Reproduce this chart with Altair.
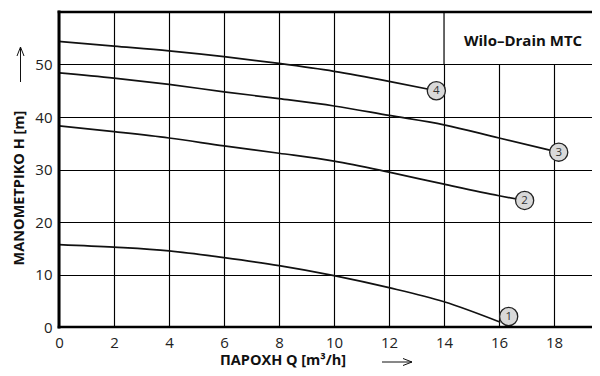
import altair as alt
import pandas as pd

# ---- data ----
x_ticks = [0, 2, 4, 6, 8, 10, 12, 14, 16, 18]
y_ticks = [0, 10, 20, 30, 40, 50]

q1 = [0, 2, 4, 6, 8, 10, 12, 14, 16.05]
h1 = [15.7, 15.2, 14.5, 13.2, 11.7, 9.8, 7.5, 4.8, 0.9]
q2 = [0, 2, 4, 6, 8, 10, 12, 14, 16, 16.93]
h2 = [38.3, 37.2, 36.0, 34.5, 33.1, 31.6, 29.5, 27.2, 25.0, 24.1]
q3 = [0, 2, 4, 6, 8, 10, 12, 14, 16, 18.17]
h3 = [48.4, 47.4, 46.2, 44.8, 43.5, 42.1, 40.3, 38.5, 36.0, 33.3]
q4 = [0, 2, 4, 6, 8, 10, 12, 13.72]
h4 = [54.4, 53.5, 52.6, 51.5, 50.2, 48.7, 46.8, 45.0]

marker_labels = ["1", "2", "3", "4"]
marker_q = [16.35, 16.93, 18.17, 13.72]
marker_h = [2.0, 24.1, 33.3, 45.0]

title_text = "Wilo–Drain MTC"
x_title = "ΠΑΡΟΧΗ Q [m³/h]"
y_title = "ΜΑΝΟΜΕΤΡΙΚΟ Η [m]"

X_MAX = 19.38
Y_MAX = 60

# ---- tables ----
rows = []
for name, qs, hs in [("1", q1, h1), ("2", q2, h2), ("3", q3, h3), ("4", q4, h4)]:
    for q, h in zip(qs, hs):
        rows.append({"curve": name, "q": q, "h": h})
df_lines = pd.DataFrame(rows)
df_markers = pd.DataFrame({"label": marker_labels, "q": marker_q, "h": marker_h})
df_box = pd.DataFrame({"x": [14], "x2": [X_MAX + 1], "y": [50], "y2": [60]})
df_hborder = pd.DataFrame({"y": [Y_MAX, 0]})
df_vborder = pd.DataFrame({"x": [0]})

# decorative arrows (pixel space, relative to plot origin)
df_arrows = pd.DataFrame({
    "x1": [-38.5, -38.5, -38.5, 323, 353, 353],
    "y1": [35, 35, 35, 350, 350, 350],
    "x2": [-38.5, -42, -35, 353, 344, 344],
    "y2": [70, 44, 44, 350, 346.5, 353.5],
})

xs = alt.Scale(domain=[0, X_MAX], nice=False, zero=False)
ys = alt.Scale(domain=[0, Y_MAX], nice=False, zero=False)

common_axis = dict(grid=True, gridColor="#000", gridWidth=1.15, gridOpacity=1,
                   domain=False, ticks=False, tickSize=0,
                   labelFont="Open Sans", labelFontSize=15, labelColor="#222",
                   labelFlush=False, labelOverlap=False, title=None, format="d")
x_axis = alt.Axis(values=x_ticks, labelPadding=8, **common_axis)
y_axis = alt.Axis(values=y_ticks, labelPadding=7, **common_axis)


def X(f):
    return alt.X(f, scale=xs, axis=x_axis)


def Y(f):
    return alt.Y(f, scale=ys, axis=y_axis)


box = alt.Chart(df_box).mark_rect(fill="white", stroke="#000", strokeWidth=1.15, clip=True).encode(
    x=X("x:Q"), x2="x2:Q", y=Y("y:Q"), y2="y2:Q",
)

lines = alt.Chart(df_lines).mark_line(color="#111", strokeWidth=1.7, interpolate="monotone").encode(
    x=X("q:Q"), y=Y("h:Q"), detail="curve:N",
)

markers = alt.Chart(df_markers).mark_point(
    shape="circle", filled=True, fill="#d9d9d9", stroke="#222", strokeWidth=1.3,
    size=330, opacity=1, fillOpacity=1
).encode(x=X("q:Q"), y=Y("h:Q"))

marker_text = alt.Chart(df_markers).mark_text(
    font="Open Sans", fontSize=11.5, color="#333", baseline="middle", align="center", dy=0.5
).encode(x=X("q:Q"), y=Y("h:Q"), text="label:N")

hborder = alt.Chart(df_hborder).mark_rule(color="#000", strokeWidth=2.6, strokeCap="square").encode(
    y=Y("y:Q")
)
vborder = alt.Chart(df_vborder).mark_rule(color="#000", strokeWidth=3, strokeCap="square").encode(
    x=X("x:Q")
)

title = alt.Chart(pd.DataFrame({"t": [title_text]})).mark_text(
    font="Open Sans", fontWeight="bold", fontSize=15, color="#111", align="left", baseline="middle"
).encode(x=alt.value(405), y=alt.value(29), text="t:N")

xt = alt.Chart(pd.DataFrame({"t": [x_title]})).mark_text(
    font="Open Sans", fontWeight="bold", fontSize=14.5, color="#111", align="left", baseline="middle"
).encode(x=alt.value(161), y=alt.value(349), text="t:N")

yt = alt.Chart(pd.DataFrame({"t": [y_title]})).mark_text(
    font="Open Sans", fontWeight="bold", fontSize=14.5, color="#111", align="center", baseline="middle",
    angle=270
).encode(x=alt.value(-39), y=alt.value(176), text="t:N")

arrows = alt.Chart(df_arrows).mark_rule(color="#111", strokeWidth=1).encode(
    x=alt.X("x1:Q", scale=None, axis=None),
    y=alt.Y("y1:Q", scale=None, axis=None),
    x2="x2:Q",
    y2="y2:Q",
)

chart = alt.layer(box, lines, markers, marker_text, hborder, vborder, title, xt, yt, arrows).properties(
    width=533, height=315,
    autosize=alt.AutoSizeParams(type="none"),
    padding={"left": 51, "top": 4, "right": 0, "bottom": 41},
    background="white",
).configure_view(strokeWidth=0)

chart.save("out.html", embed_options={"renderer": "svg", "actions": False})
